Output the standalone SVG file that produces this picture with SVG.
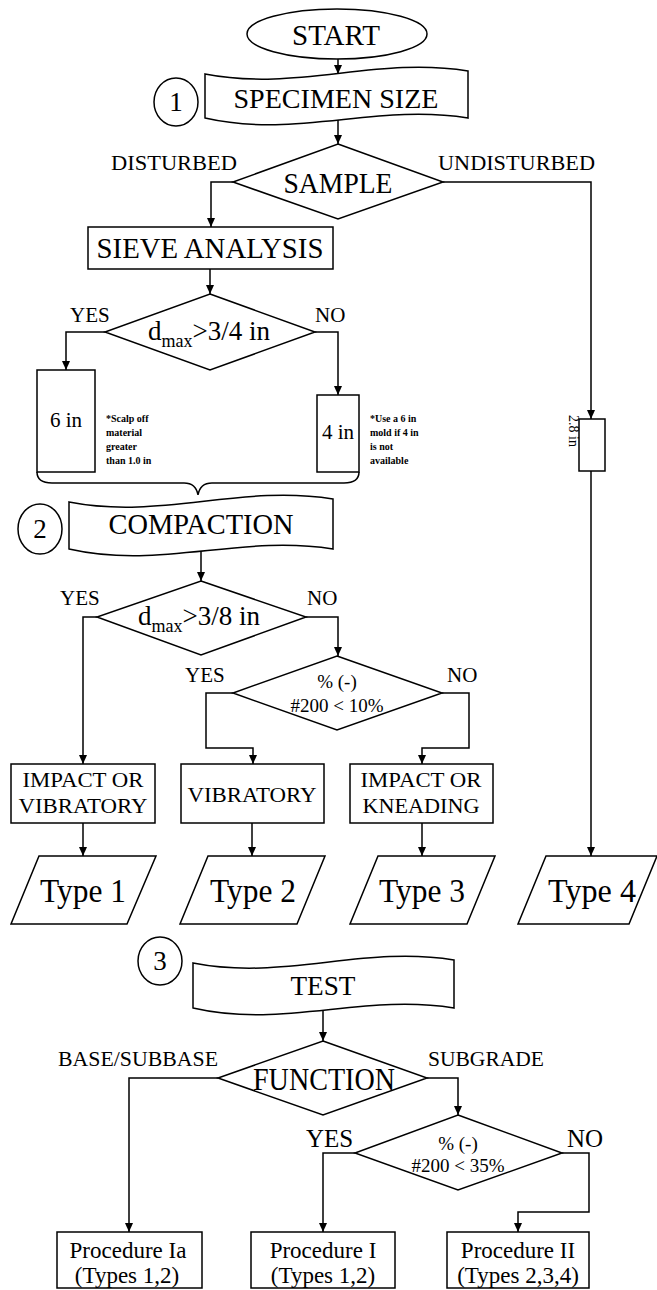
<svg xmlns="http://www.w3.org/2000/svg" width="657" height="1290" viewBox="0 0 657 1290">
<style>
  .ln{fill:none;stroke:#000;stroke-width:1.5}
  .sh{fill:#fff;stroke:#000;stroke-width:1.5}
  .t{font-family:"Liberation Serif","Times New Roman",serif;fill:#000}
  .c{text-anchor:middle}
  .note{font-family:"Liberation Serif","Times New Roman",serif;font-weight:bold;font-size:10px;fill:#000}
</style>
<defs>
  <marker id="ah" markerWidth="10" markerHeight="10" refX="9" refY="5" orient="auto" markerUnits="userSpaceOnUse">
    <path d="M0,1 L9,5 L0,9 Z" fill="#000"/>
  </marker>
</defs>
<rect width="657" height="1290" fill="#fff"/>

<g id="connectors">
  <path class="ln" d="M338,59 V74" marker-end="url(#ah)"/>
  <path class="ln" d="M338,118 V144" marker-end="url(#ah)"/>
  <path class="ln" d="M233,182 H211 V227" marker-end="url(#ah)"/>
  <path class="ln" d="M443,182 H591 V419" marker-end="url(#ah)"/>
  <path class="ln" d="M210,269 V294" marker-end="url(#ah)"/>
  <path class="ln" d="M105,332 H66 V370" marker-end="url(#ah)"/>
  <path class="ln" d="M315,332 H338 V395" marker-end="url(#ah)"/>
  <path class="ln" d="M591,471 V856" marker-end="url(#ah)"/>
  <path class="ln" d="M37,472 Q37,483 52,483 L184,483 Q196,483 198,495 Q200,483 212,483 L344,483 Q359,483 359,472"/>
  <path class="ln" d="M201,549 V581" marker-end="url(#ah)"/>
  <path class="ln" d="M97,617 H83 V764" marker-end="url(#ah)"/>
  <path class="ln" d="M306,617 H338 V656" marker-end="url(#ah)"/>
  <path class="ln" d="M233,693 H206 V748 H253 V764" marker-end="url(#ah)"/>
  <path class="ln" d="M442,693 H469 V748 H422 V764" marker-end="url(#ah)"/>
  <path class="ln" d="M83,823 V856" marker-end="url(#ah)"/>
  <path class="ln" d="M252,823 V856" marker-end="url(#ah)"/>
  <path class="ln" d="M422,823 V856" marker-end="url(#ah)"/>
  <path class="ln" d="M323,1008 V1041" marker-end="url(#ah)"/>
  <path class="ln" d="M218,1078 H129 V1232" marker-end="url(#ah)"/>
  <path class="ln" d="M427,1078 H458 V1115" marker-end="url(#ah)"/>
  <path class="ln" d="M355,1153 H323 V1232" marker-end="url(#ah)"/>
  <path class="ln" d="M562,1153 H589 V1212 H518 V1232" marker-end="url(#ah)"/>
</g>

<g id="labels">
  <text class="t" x="111" y="170" font-size="22" textLength="126" lengthAdjust="spacingAndGlyphs">DISTURBED</text>
  <text class="t" x="438" y="170" font-size="22" textLength="157" lengthAdjust="spacingAndGlyphs">UNDISTURBED</text>
  <text class="t" x="70" y="322" font-size="21">YES</text>
  <text class="t" x="315" y="322" font-size="21">NO</text>
  <text class="t" x="60" y="605" font-size="21">YES</text>
  <text class="t" x="307" y="605" font-size="21">NO</text>
  <text class="t" x="185" y="682" font-size="21">YES</text>
  <text class="t" x="447" y="682" font-size="21">NO</text>
  <text class="t" x="58" y="1066" font-size="22" textLength="160" lengthAdjust="spacingAndGlyphs">BASE/SUBBASE</text>
  <text class="t" x="428" y="1066" font-size="22" textLength="116" lengthAdjust="spacingAndGlyphs">SUBGRADE</text>
  <text class="t" x="306" y="1147" font-size="25">YES</text>
  <text class="t" x="567" y="1147" font-size="25">NO</text>
</g>

<g id="start">
  <ellipse class="sh" cx="337" cy="34" rx="90" ry="25"/>
  <text class="t c" x="336" y="45" font-size="30" textLength="88" lengthAdjust="spacingAndGlyphs">START</text>
</g>

<g id="step1">
  <ellipse class="sh" cx="176" cy="102" rx="22" ry="24"/>
  <text class="t c" x="176" y="111" font-size="27">1</text>
</g>

<g id="specimen">
  <path class="sh" d="M205,74 C297,92 376,56 468,71 L468,118 C376,103 297,139 205,118 Z"/>
  <text class="t c" x="336" y="108" font-size="28" textLength="205" lengthAdjust="spacingAndGlyphs">SPECIMEN SIZE</text>
</g>

<g id="sample">
  <path class="sh" d="M338,144 L443,182 L338,219 L233,182 Z"/>
  <text class="t c" x="338" y="193" font-size="30" textLength="109" lengthAdjust="spacingAndGlyphs">SAMPLE</text>
</g>

<g id="sieve">
  <rect class="sh" x="88" y="227" width="245" height="42"/>
  <text class="t c" x="210" y="258" font-size="29" textLength="227" lengthAdjust="spacingAndGlyphs">SIEVE ANALYSIS</text>
</g>

<g id="dmax34">
  <path class="sh" d="M210,294 L315,332 L210,370 L105,332 Z"/>
  <text class="t" x="148" y="340"><tspan font-size="27">d</tspan><tspan font-size="18" dy="7">max</tspan><tspan font-size="27" dy="-7">&gt;3/4 in</tspan></text>
</g>

<g id="six-in">
  <rect class="sh" x="37" y="370" width="58" height="102"/>
  <text class="t c" x="66" y="427" font-size="21">6 in</text>
  <text class="note" x="106" y="422">*Scalp off</text>
  <text class="note" x="106" y="436">material</text>
  <text class="note" x="106" y="450">greater</text>
  <text class="note" x="106" y="464">than 1.0 in</text>
</g>

<g id="four-in">
  <rect class="sh" x="317" y="395" width="42" height="77"/>
  <text class="t c" x="338" y="439" font-size="21">4 in</text>
  <text class="note" x="370" y="422">*Use a 6 in</text>
  <text class="note" x="370" y="436">mold if 4 in</text>
  <text class="note" x="370" y="450">is not</text>
  <text class="note" x="370" y="464">available</text>
</g>

<g id="two-eight-in">
  <rect class="sh" x="579" y="419" width="26" height="52"/>
  <text class="t c" x="0" y="0" font-size="14" transform="translate(569,431) rotate(90)">2.8 in</text>
</g>

<g id="step2">
  <ellipse class="sh" cx="40" cy="529" rx="22" ry="25"/>
  <text class="t c" x="40" y="538" font-size="27">2</text>
</g>

<g id="compaction">
  <path class="sh" d="M69,502 C161,520 240,484 333,499 L333,549 C240,534 161,570 69,549 Z"/>
  <text class="t c" x="201" y="534" font-size="29" textLength="185" lengthAdjust="spacingAndGlyphs">COMPACTION</text>
</g>

<g id="dmax38">
  <path class="sh" d="M201,581 L306,617 L201,655 L97,617 Z"/>
  <text class="t" x="138" y="625"><tspan font-size="27">d</tspan><tspan font-size="18" dy="7">max</tspan><tspan font-size="27" dy="-7">&gt;3/8 in</tspan></text>
</g>

<g id="pct10">
  <path class="sh" d="M337,656 L442,693 L337,730 L233,693 Z"/>
  <text class="t c" x="337" y="688" font-size="19">% (-)</text>
  <text class="t c" x="337" y="712" font-size="19">#200 &lt; 10%</text>
</g>

<g id="impact-vibratory">
  <rect class="sh" x="11" y="764" width="144" height="59"/>
  <text class="t c" x="83" y="787" font-size="22" textLength="121" lengthAdjust="spacingAndGlyphs">IMPACT OR</text>
  <text class="t c" x="83" y="813" font-size="22" textLength="129" lengthAdjust="spacingAndGlyphs">VIBRATORY</text>
</g>

<g id="vibratory">
  <rect class="sh" x="181" y="764" width="143" height="59"/>
  <text class="t c" x="252" y="802" font-size="22" textLength="129" lengthAdjust="spacingAndGlyphs">VIBRATORY</text>
</g>

<g id="impact-kneading">
  <rect class="sh" x="350" y="764" width="143" height="59"/>
  <text class="t c" x="421" y="787" font-size="22" textLength="121" lengthAdjust="spacingAndGlyphs">IMPACT OR</text>
  <text class="t c" x="421" y="813" font-size="22" textLength="117" lengthAdjust="spacingAndGlyphs">KNEADING</text>
</g>

<g id="type1">
  <path class="sh" d="M39,856 L156,856 L127,924 L11,924 Z"/>
  <text class="t c" x="83" y="902" font-size="34" textLength="86" lengthAdjust="spacingAndGlyphs">Type 1</text>
</g>
<g id="type2">
  <path class="sh" d="M208,856 L325,856 L297,924 L180,924 Z"/>
  <text class="t c" x="253" y="902" font-size="34" textLength="86" lengthAdjust="spacingAndGlyphs">Type 2</text>
</g>
<g id="type3">
  <path class="sh" d="M378,856 L495,856 L467,924 L350,924 Z"/>
  <text class="t c" x="422" y="902" font-size="34" textLength="86" lengthAdjust="spacingAndGlyphs">Type 3</text>
</g>
<g id="type4">
  <path class="sh" d="M546,856 L657,856 L629,924 L518,924 Z"/>
  <text class="t c" x="592" y="902" font-size="34" textLength="88" lengthAdjust="spacingAndGlyphs">Type 4</text>
</g>

<g id="step3">
  <ellipse class="sh" cx="160" cy="961" rx="22" ry="24"/>
  <text class="t c" x="160" y="970" font-size="27">3</text>
</g>

<g id="test">
  <path class="sh" d="M193,963 C284,981 363,945 454,960 L454,1008 C363,993 284,1029 193,1008 Z"/>
  <text class="t c" x="323" y="995" font-size="28" textLength="65" lengthAdjust="spacingAndGlyphs">TEST</text>
</g>

<g id="function">
  <path class="sh" d="M323,1041 L427,1078 L323,1115 L218,1078 Z"/>
  <text class="t c" x="324" y="1090" font-size="31" textLength="142" lengthAdjust="spacingAndGlyphs">FUNCTION</text>
</g>

<g id="pct35">
  <path class="sh" d="M458,1115 L562,1153 L458,1190 L355,1153 Z"/>
  <text class="t c" x="458" y="1150" font-size="19">% (-)</text>
  <text class="t c" x="458" y="1172" font-size="19">#200 &lt; 35%</text>
</g>

<g id="proc-ia">
  <rect class="sh" x="57" y="1232" width="145" height="56"/>
  <text class="t c" x="128" y="1258" font-size="23">Procedure Ia</text>
  <text class="t c" x="127" y="1283" font-size="23">(Types 1,2)</text>
</g>
<g id="proc-i">
  <rect class="sh" x="251" y="1232" width="144" height="56"/>
  <text class="t c" x="323" y="1258" font-size="23">Procedure I</text>
  <text class="t c" x="323" y="1283" font-size="23">(Types 1,2)</text>
</g>
<g id="proc-ii">
  <rect class="sh" x="447" y="1232" width="142" height="56"/>
  <text class="t c" x="518" y="1258" font-size="23">Procedure II</text>
  <text class="t c" x="518" y="1283" font-size="23">(Types 2,3,4)</text>
</g>
</svg>
